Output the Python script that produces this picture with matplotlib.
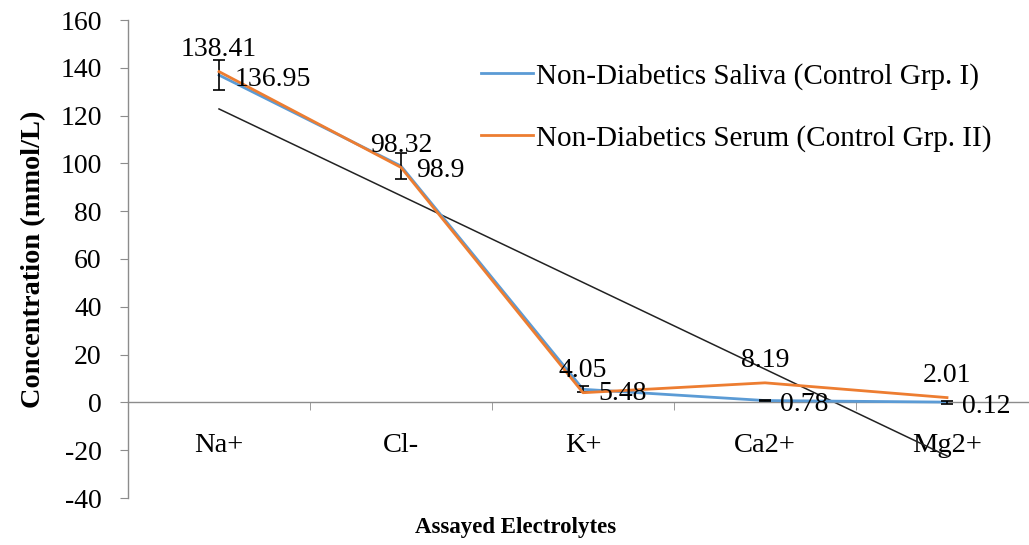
import numpy as np
import matplotlib.pyplot as plt

plt.rcParams['font.family'] = ['Liberation Serif', 'DejaVu Serif']
plt.rcParams['axes.unicode_minus'] = False

# Дані
electrolytes = ['Na+', 'Cl-', 'K+', 'Ca2+', 'Mg2+']
saliva = [136.95, 98.9, 5.48, 0.78, 0.12]
serum = [138.41, 98.32, 4.05, 8.19, 2.01]
saliva_err = [6.3, 5.3, 1.2, 0.3, 0.6]

saliva_label = 'Non-Diabetics Saliva (Control Grp. I)'
serum_label = 'Non-Diabetics Serum (Control Grp. II)'

blue = '#5B9BD5'
orange = '#ED7D31'
grey = '#8c8c8c'

fig = plt.figure(figsize=(10.29, 5.45), dpi=100)
ax = fig.add_axes([128 / 1029, 47 / 545, 910 / 1029, 478 / 545])

x = np.arange(1, len(electrolytes) + 1)

ax.plot(x, saliva, color=blue, lw=2.0, label=saliva_label, zorder=3)
ax.errorbar(x, saliva, yerr=saliva_err, fmt='none', ecolor='black',
            elinewidth=1.2, capsize=4, capthick=1.2, zorder=3.5)
ax.plot(x, serum, color=orange, lw=2.0, label=serum_label, zorder=4)

# Лінійний тренд для сироватки
k, b = np.polyfit(x, serum, 1)
ax.plot(x, k * x + b, color='#222222', lw=1.1, zorder=2)

# Підписи значень
for xi, v in zip(x, serum):
    ax.annotate(f'{v:g}', (xi, v), xytext=(0, 16), textcoords='offset points',
                ha='center', va='center', fontsize=20, zorder=6)
for xi, v in zip(x, saliva):
    ax.annotate(f'{v:g}', (xi, v), xytext=(11, -3), textcoords='offset points',
                ha='left', va='center', fontsize=20, zorder=6)

ax.set_xlim(0.5, 5.5)
ax.set_ylim(-40, 160)
ax.set_yticks(np.arange(-40, 161, 20))
ax.set_xticks(x)
ax.set_xticklabels(electrolytes)
ax.set_xticks(np.arange(1.5, 5.5, 1), minor=True)

ax.spines['top'].set_visible(False)
ax.spines['right'].set_visible(False)
ax.spines['bottom'].set_position(('data', 0))
for s in ('left', 'bottom'):
    ax.spines[s].set_color(grey)
    ax.spines[s].set_linewidth(1.0)

ax.tick_params(axis='x', which='major', length=0, pad=22, labelsize=20.5)
ax.tick_params(axis='x', which='minor', length=6, color=grey, direction='out')
ax.tick_params(axis='y', length=6, color=grey, labelsize=20, pad=13)
for t in ax.get_xticklabels():
    t.set_bbox(dict(facecolor='white', edgecolor='none', pad=0.5))

ax.set_ylabel('Concentration (mmol/L)', fontsize=20.4, fontweight='bold', labelpad=10)
fig.text(516 / 1029, 18 / 545, 'Assayed Electrolytes', fontsize=16.5,
         fontweight='bold', ha='center', va='center')

ax.legend(loc='upper left', bbox_to_anchor=(0.359, 0.965), frameon=False,
          fontsize=21, handlelength=1.8, handletextpad=0.08, labelspacing=1.2)

fig.savefig('out.png', dpi=100)
